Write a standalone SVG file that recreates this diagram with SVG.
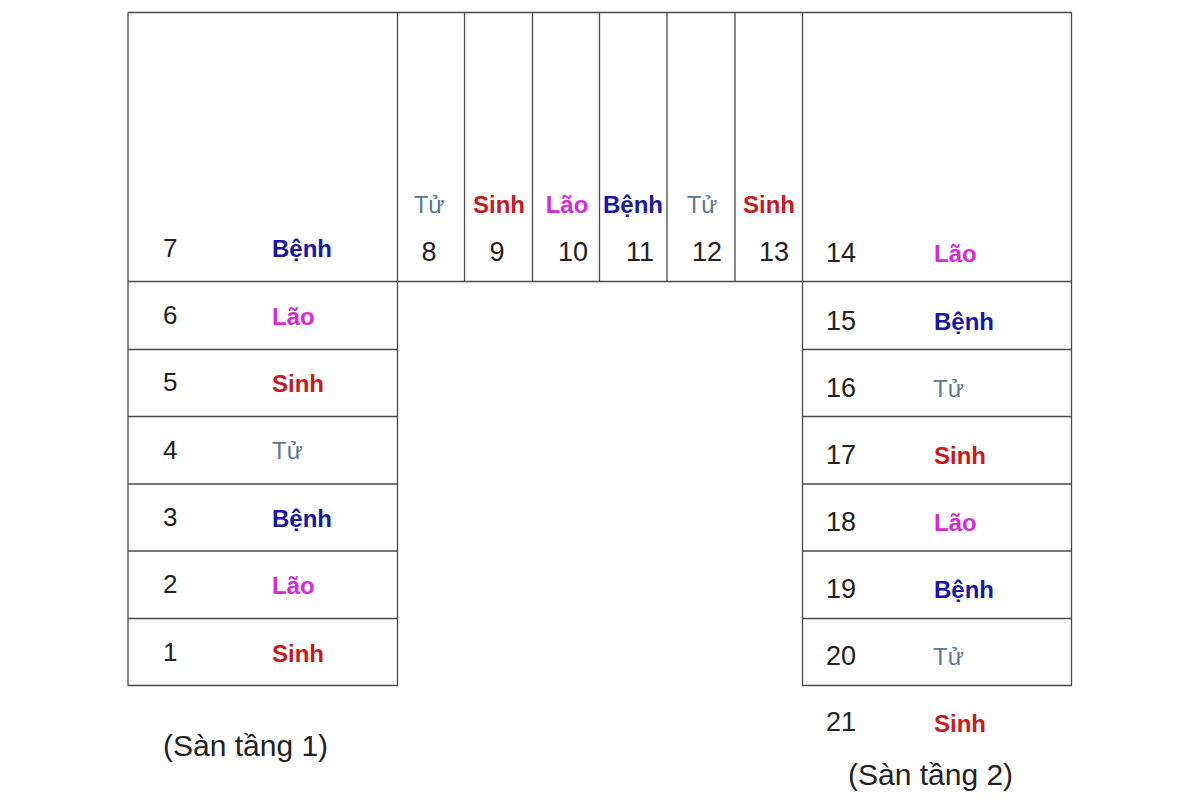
<svg xmlns="http://www.w3.org/2000/svg" width="1200" height="800" viewBox="0 0 1200 800">
<style>
.ln{stroke:#4a4a4a;stroke-width:1.3;fill:none}
text{font-family:"Liberation Sans",Arial,sans-serif}
.n{fill:#222;font-size:26px}
.nb{fill:#222;font-size:27px}
.l{font-size:24px;font-weight:bold}
.tu{fill:#5a7896;font-weight:normal}
.sinh{fill:#c81a1e}
.lao{fill:#d62ad6}
.benh{fill:#1717a8}
.cap{fill:#222;font-size:30px}
.m{text-anchor:middle}
</style>
<rect width="1200" height="800" fill="#fff"/>
<g id="grid" class="ln">
<path d="M128 12.5H1071.5M128 281.5H1071.5M128 12.5V685.5H397.5V12.5M802.5 12.5V685.5H1071.5V12.5"/>
<path d="M128 349.5H397.5M128 416.5H397.5M128 484H397.5M128 551H397.5M128 618.5H397.5"/>
<path d="M802.5 349.5H1071.5M802.5 416.5H1071.5M802.5 484H1071.5M802.5 551H1071.5M802.5 618.5H1071.5"/>
<path d="M464.5 12.5V281.5M532.5 12.5V281.5M599.5 12.5V281.5M667 12.5V281.5M735 12.5V281.5"/>
</g>
<g id="cell-7"><text class="n" x="163" y="257">7</text><text class="l benh" x="272" y="257">Bệnh</text></g>
<g id="cell-6"><text class="n" x="163" y="324">6</text><text class="l lao" x="272" y="325">Lão</text></g>
<g id="cell-5"><text class="n" x="163" y="391">5</text><text class="l sinh" x="272" y="392">Sinh</text></g>
<g id="cell-4"><text class="n" x="163" y="459">4</text><text class="l tu" x="272" y="459">Tử</text></g>
<g id="cell-3"><text class="n" x="163" y="526">3</text><text class="l benh" x="272" y="527">Bệnh</text></g>
<g id="cell-2"><text class="n" x="163" y="593">2</text><text class="l lao" x="272" y="594">Lão</text></g>
<g id="cell-1"><text class="n" x="163" y="661">1</text><text class="l sinh" x="272" y="662">Sinh</text></g>
<g id="cell-8"><text class="l tu m" x="429" y="213">Tử</text><text class="nb m" x="429" y="261">8</text></g>
<g id="cell-9"><text class="l sinh m" x="499" y="213">Sinh</text><text class="nb m" x="497" y="261">9</text></g>
<g id="cell-10"><text class="l lao m" x="567" y="213">Lão</text><text class="nb m" x="573" y="261">10</text></g>
<g id="cell-11"><text class="l benh m" x="633" y="213">Bệnh</text><text class="nb m" x="640" y="261">11</text></g>
<g id="cell-12"><text class="l tu m" x="702" y="213">Tử</text><text class="nb m" x="707" y="261">12</text></g>
<g id="cell-13"><text class="l sinh m" x="769" y="213">Sinh</text><text class="nb m" x="774" y="261">13</text></g>
<g id="cell-14"><text class="nb" x="826" y="262">14</text><text class="l lao" x="934" y="262">Lão</text></g>
<g id="cell-15"><text class="nb" x="826" y="330">15</text><text class="l benh" x="934" y="330">Bệnh</text></g>
<g id="cell-16"><text class="nb" x="826" y="397">16</text><text class="l tu" x="933" y="397">Tử</text></g>
<g id="cell-17"><text class="nb" x="826" y="464">17</text><text class="l sinh" x="934" y="464">Sinh</text></g>
<g id="cell-18"><text class="nb" x="826" y="531">18</text><text class="l lao" x="934" y="531">Lão</text></g>
<g id="cell-19"><text class="nb" x="826" y="598">19</text><text class="l benh" x="934" y="598">Bệnh</text></g>
<g id="cell-20"><text class="nb" x="826" y="665">20</text><text class="l tu" x="933" y="665">Tử</text></g>
<g id="cell-21"><text class="nb" x="826" y="731">21</text><text class="l sinh" x="934" y="732">Sinh</text></g>
<g id="caption-1"><text class="cap" x="163" y="756">(Sàn tầng 1)</text></g>
<g id="caption-2"><text class="cap" x="848" y="785">(Sàn tầng 2)</text></g>
</svg>
